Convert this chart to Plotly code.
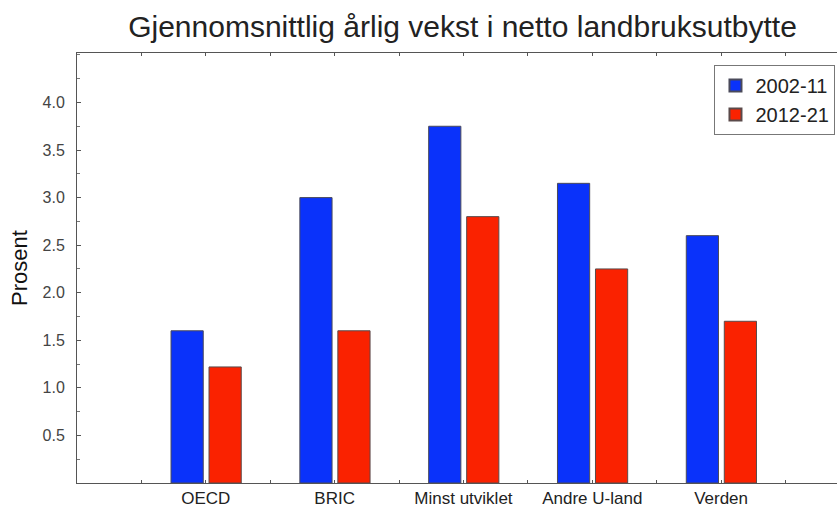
import plotly.graph_objects as go

categories = ["OECD", "BRIC", "Minst utviklet", "Andre U-land", "Verden"]
series_names = ["2002-11", "2012-21"]
values_2002_11 = [1.6, 3.0, 3.75, 3.15, 2.6]
values_2012_21 = [1.22, 1.6, 2.8, 2.25, 1.7]
y_tick_values = [0.5, 1.0, 1.5, 2.0, 2.5, 3.0, 3.5, 4.0]
y_tick_labels = ["0.5", "1.0", "1.5", "2.0", "2.5", "3.0", "3.5", "4.0"]

FONT = "Liberation Sans, Arial, Helvetica, sans-serif"
positions = list(range(1, len(categories) + 1))

fig = go.Figure()
fig.add_trace(go.Bar(
    x=positions, y=values_2002_11, name=series_names[0],
    width=0.25, offset=-0.27,
    marker=dict(color="#0a32fa", line=dict(color="#4a4a5a", width=1)),
))
fig.add_trace(go.Bar(
    x=positions, y=values_2012_21, name=series_names[1],
    width=0.25, offset=0.025,
    marker=dict(color="#fa2200", line=dict(color="#5a4a4a", width=1)),
))

# ticks every half category, labels only at category centres
xt_vals = []
xt_text = []
for i, c in enumerate(categories):
    p = i + 1
    xt_vals += [p - 0.5, p]
    xt_text += ["", c]
xt_vals.append(len(categories) + 0.5)
xt_text.append("")

fig.update_layout(
    width=837, height=508,
    margin=dict(l=77, r=0, t=53, b=25, autoexpand=False),
    paper_bgcolor="white", plot_bgcolor="white",
    font=dict(family=FONT, color="#333"),
    title=dict(
        text="Gjennomsnittlig årlig vekst i netto landbruksutbytte",
        font=dict(family=FONT, size=30, color="#222"),
        x=0.5526, xanchor="center", xref="container",
        y=0.947, yanchor="middle", yref="container",
    ),
    barmode="group",
    showlegend=True,
    legend=dict(
        x=0.998, xanchor="right", y=0.972, yanchor="top",
        bgcolor="white", bordercolor="#777", borderwidth=1,
        font=dict(family=FONT, size=20, color="#222"),
        itemsizing="constant",
    ),
    xaxis=dict(
        range=[0, 5.9], automargin=False,
        tickmode="array", tickvals=xt_vals, ticktext=xt_text,
        ticks="inside", ticklen=3, tickcolor="#555", tickwidth=1,
        showline=True, linecolor="#555", linewidth=1, mirror="ticks",
        showgrid=False, zeroline=False,
        tickfont=dict(family=FONT, size=17, color="#222"),
        ticklabelstandoff=0,
    ),
    yaxis=dict(
        range=[0, 4.52], automargin=False,
        tickmode="array", tickvals=y_tick_values, ticktext=y_tick_labels,
        ticks="inside", ticklen=4, tickcolor="#555", tickwidth=1,
        minor=dict(dtick=0.25, tick0=0.25, ticks="inside", ticklen=3, tickcolor="#777", showgrid=False),
        showline=True, linecolor="#555", linewidth=1, mirror=False,
        showgrid=False, zeroline=False,
        tickfont=dict(family=FONT, size=16, color="#444"),
        ticklabelstandoff=8,
        title=dict(text="Prosent", font=dict(family=FONT, size=22, color="#111"), standoff=8),
    ),
)

fig.write_html(
    "out.html",
    config={"displayModeBar": False},
    post_script="document.body.style.margin='0';document.body.style.overflow='hidden';",
)
